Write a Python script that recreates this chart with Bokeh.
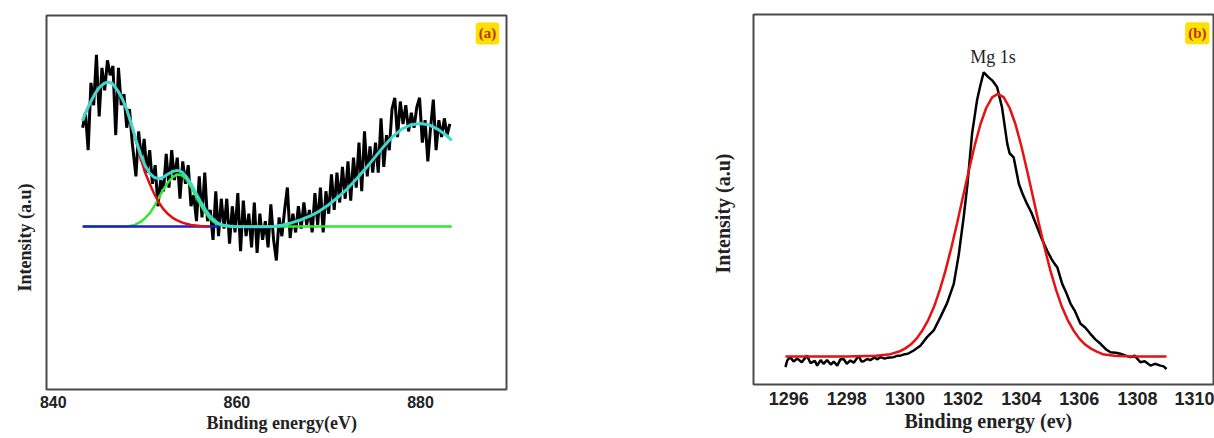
from bokeh.plotting import figure
from bokeh.models import Range1d, FixedTicker, Label, Title
from bokeh.layouts import row, column
from bokeh.embed import file_html
from bokeh.resources import INLINE

# ---------------- panel (a) data ----------------
energy_a = [843.2, 843.5, 843.8, 844.1, 844.4, 844.7, 845.0, 845.3, 845.6, 845.9,
            846.2, 846.5, 846.8, 847.1, 847.4, 847.7, 848.0, 848.3, 848.6, 849.0,
            849.3, 849.6, 849.9, 850.2, 850.5, 850.8, 851.1, 851.4, 851.7, 852.0,
            852.3, 852.6, 852.9, 853.2, 853.5, 853.8, 854.1, 854.4, 854.7, 855.0,
            855.3, 855.6, 855.9, 856.2, 856.5, 856.8, 857.1, 857.4, 857.7, 858.0,
            858.3, 858.6, 858.9, 859.2, 859.5, 859.8, 860.1, 860.4, 860.7, 861.0,
            861.3, 861.6, 861.9, 862.2, 862.5, 862.8, 863.1, 863.4, 863.7, 864.0,
            864.3, 864.6, 864.9, 865.2, 865.5, 865.8, 866.1, 866.4, 866.7, 867.0,
            867.3, 867.6, 867.9, 868.2, 868.5, 868.8, 869.1, 869.4, 869.7, 870.0,
            870.3, 870.6, 870.9, 871.2, 871.5, 871.8, 872.1, 872.4, 872.7, 873.0,
            873.3, 873.6, 873.9, 874.2, 874.5, 874.8, 875.1, 875.4, 875.7, 876.0,
            876.3, 876.6, 876.9, 877.2, 877.5, 877.8, 878.1, 878.4, 878.7, 879.0,
            879.3, 879.6, 879.9, 880.2, 880.5, 880.8, 881.1, 881.4, 881.7, 882.0,
            882.3, 882.6, 882.9, 883.2]
counts_a = [70, 74, 64, 82, 76, 89.5, 73, 86, 80, 88,
            84, 86.5, 68, 86, 76, 79, 70, 75, 66, 57,
            69, 61, 67, 58, 64, 55, 60, 49, 56, 53,
            63, 54, 64, 56, 62, 51, 61, 55, 60, 49,
            52, 45, 57, 46, 58, 45, 48, 40, 53, 41,
            51, 43, 51, 39, 49, 42, 52.5, 37, 50.5, 41,
            47, 38, 50, 36.5, 47, 40, 45, 38, 49.5, 40,
            34.5, 46, 41, 48, 54, 40.5, 47, 42, 49, 43,
            50, 44, 48, 42, 52.5, 44, 54, 42, 53, 47,
            57.5, 48, 58, 50, 59.5, 51, 61, 50.5, 62, 54,
            66, 53, 69, 57, 65, 58, 66, 58, 72.5, 59.5,
            68, 64, 75, 78, 67.5, 77, 71, 76, 69, 74,
            70, 75.5, 78, 66, 72, 61, 70, 77.5, 64, 72,
            67.5, 72.5, 68, 71]

fit_a_x = [843.2, 843.6, 844.0, 844.5, 845.0, 845.5, 845.9, 846.4, 847.0, 847.5,
           848.0, 848.5, 849.0, 849.5, 850.0, 850.5, 851.0, 851.5, 852.0, 852.5,
           853.0, 853.5, 854.0, 854.5, 855.0, 855.5, 856.0, 856.5, 857.0, 857.5,
           858.0, 858.6, 859.5, 861.0, 862.5, 864.0, 865.0, 866.0, 867.0, 868.0,
           869.0, 870.0, 871.0, 872.0, 873.0, 874.0, 875.0, 876.0, 877.0, 878.0,
           879.0, 880.0, 881.0, 882.0, 882.7, 883.4]
fit_a_y = [71.9, 74.4, 76.6, 78.9, 80.7, 81.8, 82.2, 81.9, 80.0, 77.8,
           74.9, 71.0, 66.8, 62.9, 59.9, 57.8, 56.7, 56.4, 56.8, 57.6,
           58.3, 58.6, 58.2, 56.9, 55.0, 52.7, 50.4, 48.3, 46.6, 45.3,
           44.4, 43.9, 43.6, 43.5, 43.5, 43.6, 44.0, 44.6, 45.4, 46.4,
           47.7, 49.4, 51.4, 53.6, 56.2, 59.0, 62.0, 65.0, 67.7, 69.7,
           70.8, 71.1, 70.7, 69.4, 68.2, 66.6]

peak1_x = [843.2, 843.6, 844.0, 844.5, 845.0, 845.5, 845.9, 846.4, 847.0, 847.5,
           848.0, 848.5, 849.0, 849.5, 850.0, 850.5, 851.0, 851.5, 852.0, 852.5,
           853.0, 853.5, 854.0, 854.5, 855.0, 856.0, 857.0]
peak1_y = [71.9, 74.4, 76.6, 78.9, 80.7, 81.8, 82.2, 81.9, 80.0, 77.8,
           74.9, 70.9, 66.5, 62.0, 58.0, 55.0, 52.3, 50.0, 48.2, 46.9,
           45.9, 45.2, 44.7, 44.3, 44.0, 43.7, 43.6]

peak2_x = [843.2, 848.0, 848.8, 849.5, 850.0, 850.5, 851.0, 851.5, 852.0, 852.5,
           853.0, 853.5, 854.0, 854.5, 855.0, 855.5, 856.0, 856.5, 857.0, 857.5,
           858.0, 858.6, 859.5, 883.4]
peak2_y = [43.6, 43.6, 43.9, 44.8, 45.8, 47.1, 49.0, 51.3, 53.5, 55.4,
           56.8, 57.5, 57.3, 56.2, 54.2, 51.9, 49.6, 47.5, 45.9, 44.8,
           44.1, 43.7, 43.6, 43.6]

background_a_x = [843.2, 858.0]
background_a_y = [43.6, 43.6]

ticks_a = [840, 860, 880]

# ---------------- panel (b) data ----------------
energy_b = [1295.89, 1295.95, 1296.05, 1296.17, 1296.3, 1296.45, 1296.63, 1296.75, 1296.9, 1296.98,
            1297.1, 1297.2, 1297.32, 1297.45, 1297.55, 1297.67, 1297.78, 1297.89, 1298.0, 1298.12,
            1298.24, 1298.41, 1298.5, 1298.58, 1298.7, 1298.81, 1298.95, 1299.05, 1299.16, 1299.3,
            1299.39, 1299.5, 1299.61, 1299.75, 1299.84, 1300.0, 1300.1, 1300.3, 1300.53, 1300.76,
            1300.99, 1301.22, 1301.45, 1301.68, 1301.85, 1302.02, 1302.15, 1302.31, 1302.48, 1302.6,
            1302.71, 1302.85, 1303.0, 1303.17, 1303.34, 1303.52, 1303.6, 1303.74, 1303.92, 1304.05,
            1304.2, 1304.35, 1304.55, 1304.7, 1304.89, 1305.05, 1305.15, 1305.24, 1305.41, 1305.55,
            1305.7, 1305.85, 1306.04, 1306.2, 1306.38, 1306.55, 1306.73, 1306.9, 1307.07, 1307.25,
            1307.41, 1307.6, 1307.76, 1307.9, 1308.1, 1308.25, 1308.45, 1308.6, 1308.79, 1308.9,
            1309.0]
counts_b = [4.7, 6.5, 7.4, 6.2, 7.0, 6.0, 7.8, 5.8, 6.4, 5.1,
            6.6, 5.6, 6.6, 5.4, 6.2, 5.1, 6.8, 6.9, 5.6, 6.5,
            5.9, 7.8, 6.2, 6.3, 6.9, 6.6, 7.3, 6.8, 7.4, 7.0,
            7.2, 7.3, 7.4, 7.8, 7.8, 8.2, 8.3, 9.2, 10.5, 12.8,
            14.6, 18.2, 22.0, 27.2, 35.0, 45.2, 54.0, 67.8, 76.8, 81.0,
            84.4, 83.2, 82.2, 80.4, 74.9, 65.1, 62.5, 61.4, 54.2, 51.5,
            48.8, 46.5, 42.5, 39.5, 36.2, 33.8, 32.6, 31.7, 27.2, 24.8,
            21.8, 19.8, 16.4, 15.4, 13.7, 12.2, 11.0, 9.6, 8.7, 8.6,
            8.3, 7.8, 7.4, 7.8, 6.0, 6.3, 5.1, 5.6, 5.1, 4.9,
            4.2]

fit_b_x = [1295.89, 1298.0, 1299.0, 1299.5, 1299.8, 1300.0, 1300.2, 1300.4, 1300.6, 1300.8,
           1301.0, 1301.2, 1301.4, 1301.6, 1301.8, 1302.0, 1302.2, 1302.4, 1302.6, 1302.8,
           1303.0, 1303.2, 1303.4, 1303.6, 1303.8, 1304.0, 1304.2, 1304.4, 1304.6, 1304.8,
           1305.0, 1305.2, 1305.4, 1305.6, 1305.8, 1306.0, 1306.2, 1306.4, 1306.6, 1306.8,
           1307.2, 1307.8, 1309.0]
fit_b_y = [7.6, 7.6, 7.8, 8.2, 8.9, 9.7, 10.8, 12.4, 14.6, 17.4,
           21.0, 25.6, 30.9, 37.1, 43.8, 50.9, 57.9, 64.6, 70.4, 74.8,
           77.6, 78.6, 77.6, 74.8, 70.4, 64.6, 57.9, 50.9, 43.8, 37.1,
           30.9, 25.6, 21.0, 17.4, 14.6, 12.4, 10.8, 9.7, 8.9, 8.2,
           7.8, 7.6, 7.6]

ticks_b = [1296, 1298, 1300, 1302, 1304, 1306, 1308, 1310]

SERIF = "Liberation Serif"
SANS = "Liberation Sans"
INK = "#222222"


def style(p, ticks, tick_size, standoff):
    p.grid.visible = False
    p.yaxis.visible = False
    p.xaxis.ticker = FixedTicker(ticks=ticks)
    p.xaxis.axis_line_color = None
    p.xaxis.major_tick_in = 0
    p.xaxis.major_tick_out = 0
    p.xaxis.minor_tick_in = 0
    p.xaxis.minor_tick_out = 0
    p.xaxis.major_label_standoff = standoff
    p.xaxis.major_label_text_font = SANS
    p.xaxis.major_label_text_font_style = "bold"
    p.xaxis.major_label_text_font_size = tick_size
    p.xaxis.major_label_text_color = INK
    p.outline_line_color = "#4a4a4a"
    p.outline_line_width = 2
    p.background_fill_color = "white"
    p.border_fill_color = "white"


def side_title(text, size, offset, standoff):
    return Title(text=text, align="left", offset=offset, standoff=standoff,
                 text_font=SERIF, text_font_style="bold", text_font_size=size,
                 text_color=INK)


# ---------------- figure (a) ----------------
p1 = figure(width=560, height=438, x_range=Range1d(839.26, 889.37), y_range=Range1d(0, 100),
            output_backend="svg", toolbar_location=None,
            min_border_left=45, min_border_right=54, min_border_top=15, min_border_bottom=49)
style(p1, ticks_a, "16px", 6)

p1.line(energy_a, counts_a, line_color="black", line_width=3)
p1.line(peak2_x, peak2_y, line_color="#33e633", line_width=2.5)
p1.line(background_a_x, background_a_y, line_color="#1e1ec8", line_width=2.5)
p1.line(peak1_x, peak1_y, line_color="#e01010", line_width=2.5)
p1.line(fit_a_x, fit_a_y, line_color="#3ed8d2", line_width=3)

p1.add_layout(side_title("Binding energy(eV)", "18px", 160, 0), "below")
p1.add_layout(side_title("Intensity (a.u)", "18px", 98, 24), "left")
p1.add_layout(Label(x=887.3, y=95.2, text="(a)", text_align="center", text_baseline="middle",
                    text_font=SERIF, text_font_style="bold", text_font_size="15px",
                    text_color="#c03000", background_fill_color="#ffe000",
                    padding=3, border_radius=3))

# ---------------- figure (b) ----------------
p2 = figure(width=654, height=438, x_range=Range1d(1294.79, 1310.65), y_range=Range1d(0, 100),
            output_backend="svg", toolbar_location=None,
            min_border_left=193, min_border_right=0, min_border_top=14, min_border_bottom=54)
style(p2, ticks_b, "18px", 7)

p2.line(energy_b, counts_b, line_color="black", line_width=2.5)
p2.line(fit_b_x, fit_b_y, line_color="#e81010", line_width=2.5)

p2.add_layout(Label(x=1303.03, y=88.4, text="Mg 1s", text_align="center", text_baseline="middle",
                    text_font=SERIF, text_font_size="18px", text_color=INK))
p2.add_layout(side_title("Binding energy (ev)", "20px", 151, 0), "below")
p2.add_layout(side_title("Intensity (a.u)", "20px", 111, 39), "left")
p2.add_layout(Label(x=1310.06, y=94.9, text="(b)", text_align="center", text_baseline="middle",
                    text_font=SERIF, text_font_style="bold", text_font_size="15px",
                    text_color="#c03000", background_fill_color="#ffe000",
                    padding=3, border_radius=3))

# each panel in its own column so the row does not align the two frames
layout = row(column(p1), column(p2))
open("out.html", "w").write(file_html(layout, INLINE))
